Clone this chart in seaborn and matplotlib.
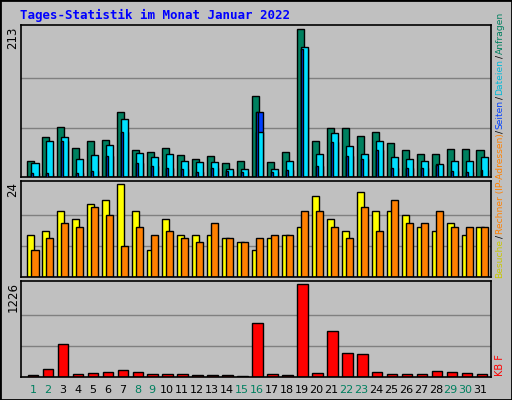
import matplotlib
matplotlib.use("Agg")
import matplotlib.pyplot as plt
import seaborn as sns
import numpy as np
import pandas as pd

days = list(range(1, 32))
hits = [23,57,72,42,52,54,94,39,36,42,32,26,30,20,23,116,22,36,213,52,71,71,59,65,49,39,33,33,41,41,39]
files = [20,52,57,26,32,46,84,35,29,33,23,22,22,12,12,65,12,23,188,33,64,45,33,52,29,26,23,19,23,23,29]
pages = [6,6,52,6,9,30,65,20,16,13,12,7,13,9,7,94,7,10,184,16,51,30,26,39,13,13,13,17,9,7,10]
visits = [11,12,17,15,19,20,24,17,7,15,11,11,11,10,9,7,10,11,13,21,15,12,22,17,17,16,13,12,14,11,13]
sites = [7,10,14,13,18,16,8,13,11,12,10,9,14,10,9,10,11,11,17,17,13,10,18,12,20,14,14,17,13,13,13]
kbytes = [31,112,434,45,58,72,98,72,45,45,45,31,31,31,18,716,45,31,1226,58,608,313,300,72,45,45,45,85,72,58,45]
weekend = [1,2,8,9,15,16,22,23,29,30]

sns.set_theme(style="white")
plt.rcParams['font.family'] = ['DejaVu Sans']
BG = "#C0C0C0"
fig = plt.figure(figsize=(5.12, 4.0), dpi=100, facecolor=BG)
fig.patches.append(plt.Rectangle((0, 0), 1, 1, transform=fig.transFigure, fill=False,
                                 edgecolor="black", linewidth=2))

d = np.array(days, dtype=float)
off = 0.135
w = 0.47

def bars(ax, x, y, color, width, zorder=2):
    sns.barplot(x=x, y=y, native_scale=True, width=width, color=color, saturation=1,
                edgecolor="black", linewidth=1, ax=ax, zorder=zorder, errorbar=None)

def style(ax, ymax, label):
    ax.set_facecolor(BG)
    ax.set_xlim(0.2, 31.6)
    ax.set_ylim(0, ymax)
    ax.set_xticks([]); ax.set_yticks([])
    ax.set_xlabel(""); ax.set_ylabel("")
    for s in ax.spines.values():
        s.set_color("black"); s.set_linewidth(1.2)
    ax.text(-0.017, 0.99, label, transform=ax.transAxes, rotation=90, ha="center", va="top",
            fontsize=8.5, color="black")

ax1 = fig.add_axes([0.041, 0.5575, 0.918, 0.38])
ax2 = fig.add_axes([0.041, 0.3075, 0.918, 0.24])
ax3 = fig.add_axes([0.041, 0.0575, 0.918, 0.24])

for ax, g in [(ax1, [71, 142]), (ax2, [8, 16]), (ax3, [409, 817])]:
    for v in g:
        ax.axhline(v, color="#808080", linewidth=1, zorder=1)

bars(ax1, d - off, hits, "#00805F", w)
bars(ax1, d + off, pages, "#0040FF", w)
bars(ax1, d + off, files, "#00E0FF", w)
bars(ax1, d + off - 0.17, pages, "#0040FF", 0.13, zorder=3)
style(ax1, 219, "213")

bars(ax2, d - off, visits, "#FFFF00", w)
bars(ax2, d + off, sites, "#FF8000", w)
style(ax2, 24.85, "24")

bars(ax3, d, kbytes, "#FF0000", 0.7)
style(ax3, 1265, "1226")

for day in days:
    fig.text((21 + (day - 0.2) * 14.92) / 512, 1 - 390 / 400, str(day), ha="center", va="center",
             fontsize=8, color="#00805F" if day in weekend else "black")

fig.text(20 / 512, 1 - 15 / 400, "Tages-Statistik im Monat Januar 2022", fontsize=9,
         fontweight="bold", family="DejaVu Sans Mono", color="#0000FF", va="center")

rx = 500 / 512
pieces = [("Besuche", "#C8C800"), ("/", "black"), ("Rechner (IP-Adressen)", "#FF8000"),
          ("/", "black"), ("Seiten", "#0040FF"), ("/", "black"), ("Dateien", "#00B8D8"),
          ("/", "black"), ("Anfragen", "#00805F")]
renderer = fig.canvas.get_renderer()
y = 1 - 278 / 400
for txt, col in pieces:
    t = fig.text(rx, y, txt, rotation=90, ha="center", va="bottom", fontsize=6.6, color=col)
    bb = t.get_window_extent(renderer)
    y = y + bb.height / 400 + 0.002
fig.text(rx, 1 - 376 / 400, "KB F", rotation=90, ha="center", va="bottom", fontsize=7, color="#FF0000")

fig.savefig("out.png", dpi=100, facecolor=BG)
